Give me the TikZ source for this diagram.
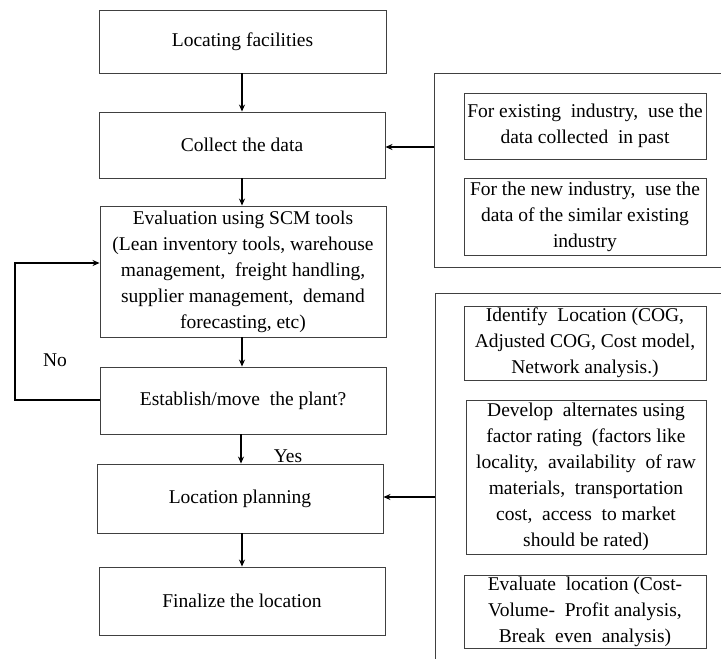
\documentclass[tikz,border=0pt]{standalone}
\usepackage{fontspec}
\setmainfont{Liberation Serif}
\usetikzlibrary{arrows.meta,calc}
\tikzset{
  box/.style={draw=black!75, line width=0.9pt, inner sep=0pt, align=center,
    font=\fontsize{19.5}{26}\selectfont},
  grp/.style={draw=black!75, line width=0.9pt, inner sep=0pt},
  arr/.style={line width=1.3pt, -{Stealth[length=7pt,width=6pt]}},
  lbl/.style={inner sep=0pt, font=\fontsize{19.5}{26}\selectfont}
}
\begin{document}
\begin{tikzpicture}[x=1pt,y=-1pt]
\useasboundingbox (0,0) rectangle (721,659);
\clip (0,0) rectangle (721,659);
\fill[white] (0,0) rectangle (721,659);
% left column
\node[box, minimum width=287pt, minimum height=63pt] (loc) at (242.5,41.5) {Locating facilities};
\node[box, minimum width=286pt, minimum height=66pt] (col) at (242,145) {Collect the data};
\node[box, minimum width=286pt, minimum height=131pt] (eva) at (243,271.5) {Evaluation using SCM tools\\(Lean inventory tools, warehouse\\management,\ \ freight handling,\\supplier management,\ \ demand\\forecasting, etc)};
\node[box, minimum width=286pt, minimum height=67pt] (est) at (243,400.5) {Establish/move\ \ the plant?};
\node[box, minimum width=286pt, minimum height=69pt] (lp) at (240,498.5) {Location planning};
\node[box, minimum width=286pt, minimum height=68pt] (fin) at (242,601) {Finalize the location};
% right groups
\node[grp, minimum width=296pt, minimum height=194pt] (g1) at (582,170) {};
\node[grp, minimum width=295pt, minimum height=377pt] (g2) at (582.5,481.5) {};
\node[box, minimum width=242pt, minimum height=66pt] (in1) at (585,126) {For existing\ \ industry,\ \ use the\\data collected\ \ in past};
\node[box, minimum width=242pt, minimum height=77pt] (in2) at (585,216.5) {For the new industry,\ \ use the\\data of the similar existing\\industry};
\node[box, minimum width=242pt, minimum height=74pt] (in3) at (585,343) {Identify\ \ Location (COG,\\Adjusted COG, Cost model,\\Network analysis.)};
\node[box, minimum width=240pt, minimum height=154pt] (in4) at (586,477) {Develop\ \ alternates using\\factor rating\ \ (factors like\\locality,\ \ availability\ \ of raw\\materials,\ \ transportation\\cost,\ \ access\ \ to market\\should be rated)};
\node[box, minimum width=242pt, minimum height=73pt] (in5) at (585,611.5) {Evaluate\ \ location (Cost-\\Volume-\ \ Profit analysis,\\Break\ \ even\ \ analysis)};
% labels
\node[lbl] (no) at (55,360) {No};
\node[lbl] (yes) at (288,456) {Yes};
% arrows
\draw[arr] (loc.south -| 242,0) -- (col.north -| 242,0);
\draw[arr] (col.south -| 242,0) -- (eva.north -| 242,0);
\draw[arr] (eva.south -| 242,0) -- (est.north -| 242,0);
\draw[arr] (est.south -| 241,0) -- (lp.north -| 241,0);
\draw[arr] (lp.south -| 242,0) -- (fin.north -| 242,0);
\coordinate (a1) at (434,147);
\draw[arr] (a1) -- (a1 -| col.east);
\coordinate (a2) at (435,497);
\draw[arr] (a2) -- (a2 -| lp.east);
\coordinate (c1) at (15,400);
\coordinate (c2) at (15,263);
\draw[arr] (est.west |- c1) -- (c1) -- (c2) -- (c2 -| eva.west);
\end{tikzpicture}
\end{document}
